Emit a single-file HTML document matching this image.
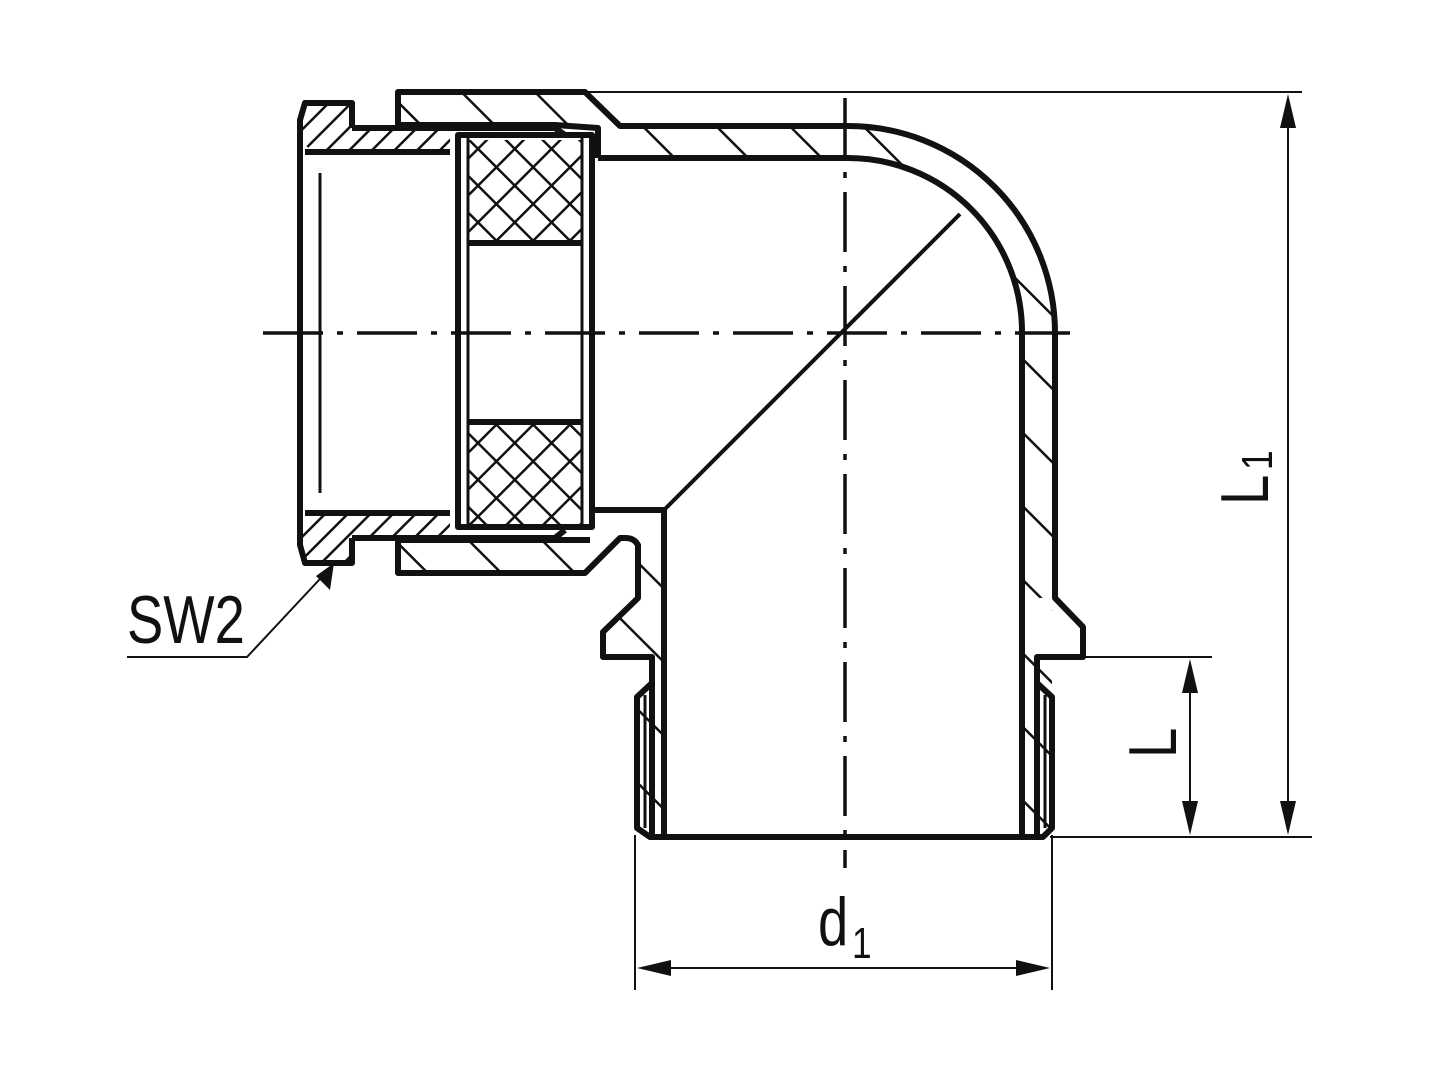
<!DOCTYPE html>
<html><head><meta charset="utf-8"><style>html,body{margin:0;padding:0;background:#fff}svg{display:block}</style></head>
<body>
<svg width="1440" height="1080" viewBox="0 0 1440 1080" xmlns="http://www.w3.org/2000/svg">
<defs>
<pattern id="h1" patternUnits="userSpaceOnUse" width="52" height="52" patternTransform="rotate(-45)">
<line x1="0" y1="0" x2="0" y2="52" stroke="#111" stroke-width="5"/></pattern>
<pattern id="h2" patternUnits="userSpaceOnUse" width="16" height="16" patternTransform="rotate(45)">
<line x1="0" y1="0" x2="0" y2="16" stroke="#111" stroke-width="5"/></pattern>
<pattern id="x1" patternUnits="userSpaceOnUse" width="26" height="26" patternTransform="rotate(45)">
<line x1="0" y1="0" x2="0" y2="26" stroke="#111" stroke-width="5"/><line x1="0" y1="0" x2="26" y2="0" stroke="#111" stroke-width="5"/></pattern>
</defs>
<g fill="none" stroke="#111" stroke-width="6" stroke-linejoin="round">
<path d="M848,126 A207,207 0 0 1 1055,333 L1055,598 L1022,598 L1022,333 A174,174 0 0 0 848,158 L598,158 L598,126 Z" fill="url(#h1)" stroke="none"/>
<path d="M398,92 L585,92 L620,126 L598,158 L598,128 L555,125 L398,125 Z" fill="url(#h1)" stroke="none"/>
<path d="M398,540 L590,540 L590,573 L398,573 Z" fill="url(#h1)" stroke="none"/>
<path d="M1022,610 L1052,610 L1052,828 L1022,828 Z" fill="url(#h1)" stroke="none"/>
<path d="M638,545 L664,510 L664,835 L637,835 L637,697 L652,683 L652,657 L603,657 L603,632 L638,598 Z" fill="url(#h1)" stroke="none"/>
<path d="M305,103 L352,103 L352,128 L450,128 L450,152 L318,152 Q305,150 300,135 Z" fill="url(#h2)" stroke="none"/>
<path d="M305,563 L352,563 L352,538 L450,538 L450,513 L318,513 Q305,515 300,530 Z" fill="url(#h2)" stroke="none"/>
<rect x="468" y="140" width="114" height="103" fill="url(#x1)" stroke="none"/>
<rect x="468" y="422" width="114" height="103" fill="url(#x1)" stroke="none"/>
<path d="M398,125 L398,92 L585,92 L620,126 L848,126 A207,207 0 0 1 1055,333 L1055,598 L1083,627 L1083,657 L1037,657 L1037,683 L1052,697 L1052,828 L1043,837 L650,837 L637,828 L637,697 L652,683 L652,657 L603,657 L603,632 L638,598 L638,545 Q634,538 626,538 L620,538 L585,573 L398,573 L398,540"/>
<path d="M598,158 L848,158 A174,174 0 0 1 1022,333 L1022,835"/>
<path d="M598,158 L598,128 L555,125 L398,125" />
<line x1="664" y1="510" x2="664" y2="835"/>
<line x1="664" y1="510" x2="960" y2="214" stroke-width="4"/>
<line x1="590" y1="510" x2="664" y2="510"/>
<line x1="398" y1="540" x2="590" y2="540"/>
<line x1="652" y1="683" x2="652" y2="835"/>
<line x1="1037" y1="683" x2="1037" y2="835"/>
<line x1="645" y1="695" x2="645" y2="828" stroke-width="3"/>
<line x1="1045" y1="695" x2="1045" y2="828" stroke-width="3"/>
<path d="M352,128 L352,103 L305,103 L300,120 L300,545 L305,563 L352,563 L352,538"/>
<path d="M305,152 L450,152 M305,513 L450,513 M352,128 L555,128 L565,135 M352,538 L555,538 L565,530"/>
<line x1="320" y1="173" x2="320" y2="493" stroke-width="3"/>
<rect x="458" y="135" width="134" height="392"/>
<line x1="468" y1="135" x2="468" y2="527" stroke-width="3"/>
<line x1="582" y1="135" x2="582" y2="527" stroke-width="3"/>
<line x1="468" y1="243" x2="582" y2="243"/>
<line x1="468" y1="422" x2="582" y2="422"/>
</g>
<g stroke="#111" stroke-width="3.5" fill="none">
<line x1="263" y1="333" x2="1070" y2="333" stroke-dasharray="60,14,6,14"/>
<line x1="845" y1="98" x2="845" y2="868" stroke-dasharray="60,14,6,14"/>
</g>
<g stroke="#111" stroke-width="2" fill="none">
<line x1="585" y1="92" x2="1302" y2="92"/>
<line x1="1083" y1="657" x2="1212" y2="657"/>
<line x1="1050" y1="837" x2="1312" y2="837"/>
<line x1="635" y1="835" x2="635" y2="990"/>
<line x1="1052" y1="835" x2="1052" y2="990"/>
<polyline points="127,657 247,657 333,565" />
</g>
<g fill="#111">
<path d="M1288,94 L1280,128 L1296,128 Z"/><path d="M1288,835 L1280,801 L1296,801 Z"/>
<line x1="1288" y1="120" x2="1288" y2="810" stroke="#111" stroke-width="2"/>
<path d="M1190,659 L1182,693 L1198,693 Z"/><path d="M1190,835 L1182,801 L1198,801 Z"/>
<line x1="1190" y1="680" x2="1190" y2="815" stroke="#111" stroke-width="2"/>
<path d="M637,968 L671,960 L671,976 Z"/><path d="M1050,968 L1016,960 L1016,976 Z"/>
<line x1="660" y1="968" x2="1030" y2="968" stroke="#111" stroke-width="2"/>
<path d="M334,563 L330,590 L316,576 Z"/>
</g>
<g font-family="Liberation Sans, sans-serif" fill="#111">
<text transform="translate(127,643) scale(0.8,1)" font-size="68">SW2</text>
<text transform="translate(818,945) scale(0.8,1)" font-size="68">d</text>
<text transform="translate(852,958) scale(0.8,1)" font-size="44">1</text>
<text transform="translate(1268,505) rotate(-90) scale(0.8,1)" font-size="68">L</text>
<text transform="translate(1272,470) rotate(-90) scale(0.8,1)" font-size="44">1</text>
<text transform="translate(1176,758) rotate(-90) scale(0.8,1)" font-size="68">L</text>
</g>
</svg>
</body></html>
